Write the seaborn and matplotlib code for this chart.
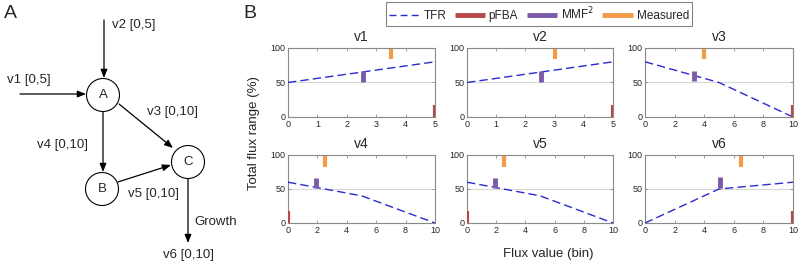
import numpy as np
import pandas as pd
import matplotlib
matplotlib.use('Agg')
import matplotlib.pyplot as plt
import matplotlib.patches as mpatches
from matplotlib.lines import Line2D
import seaborn as sns

# THE DATA ********************************************************************

fluxes = ['v1', 'v2', 'v3', 'v4', 'v5', 'v6']
x_max = [5, 5, 10, 10, 10, 10]

# total flux range (TFR) curves, breakpoints per flux
tfr_x = [[0, 5], [0, 5], [0, 5, 10], [0, 5, 10], [0, 5, 10], [0, 5, 10]]
tfr_y = [[50, 80], [50, 80], [80, 50, 0], [60, 40, 0], [60, 40, 0], [0, 50, 60]]

# pFBA solution (bar from 0 up)
pfba_x = [5, 5, 10, 0, 0, 10]
pfba_top = [17, 17, 17, 17, 17, 17]

# MMF^2 solution
mmf_x = [2.55, 2.55, 3.3, 1.9, 1.9, 5.1]
mmf_lo = [50, 50, 52, 51, 51, 51]
mmf_hi = [66, 66, 67, 66, 66, 67]

# Measured
meas_x = [3.5, 3.0, 4.0, 2.5, 2.5, 6.5]
meas_lo = [84, 84, 84, 83, 83, 83]
meas_hi = [99, 99, 99, 99, 99, 99]

# network (panel A)
nodes = ['A', 'B', 'C']
node_xy = [(103, 95), (102, 189), (188, 162)]
edge_labels = ['v1 [0,5]', 'v2 [0,5]', 'v3 [0,10]', 'v4 [0,10]', 'v5 [0,10]', 'Growth', 'v6 [0,10]']

# THE CHART *******************************************************************

sns.set_style('ticks')
plt.rcParams['font.family'] = ['Liberation Sans', 'DejaVu Sans']

c_tfr = '#2b2bd0'
c_pfba = '#b84848'
c_mmf = '#7b5ba8'
c_meas = '#f59a48'
c_spine = '#8a8a8a'

fig = plt.figure(figsize=(8, 2.63), dpi=100)

# ---- Panel A: the toy network, drawn in pixel coordinates
axA = fig.add_axes([0, 0, 220 / 800, 1])
axA.set_xlim(0, 220)
axA.set_ylim(263, 0)
axA.axis('off')

r = 16.5
for name, (cx, cy) in zip(nodes, node_xy):
    axA.add_patch(mpatches.Circle((cx, cy), r, facecolor='white', edgecolor='black', lw=0.8))
    axA.text(cx, cy, name, ha='center', va='center', fontsize=9.5)

def arrow(p0, p1):
    axA.annotate('', xy=p1, xytext=p0,
                 arrowprops=dict(arrowstyle='-|>,head_length=0.5,head_width=0.2',
                                 color='black', lw=0.9, shrinkA=0, shrinkB=0))

arrow((20, 94), (86, 94))       # v1
arrow((104, 20), (104, 78))     # v2
arrow((119, 104), (173, 148))   # v3
arrow((103, 112), (103, 172))   # v4
arrow((118, 182), (171, 165))   # v5
arrow((188, 179), (188, 243))   # growth / v6

label_pos = [(7, 80), (112, 25), (147, 112), (37, 145), (128, 194), (194, 222), (163, 255)]
for lab, (tx, ty) in zip(edge_labels, label_pos):
    axA.text(tx, ty, lab, ha='left', va='center', fontsize=9.5)

fig.text(4 / 800, 1 - 14 / 263, 'A', fontsize=14, ha='left', va='center')
fig.text(243 / 800, 1 - 13 / 263, 'B', fontsize=14, ha='left', va='center')

# ---- Panel B: the six flux subplots
lefts = [288, 467, 645]
widths = [147, 146, 148]
rows = [(117, 69), (223, 68)]

for i, v in enumerate(fluxes):
    row, col = divmod(i, 3)
    bot, h = rows[row]
    ax = fig.add_axes([lefts[col] / 800, 1 - bot / 263, widths[col] / 800, h / 263])

    tfr = pd.DataFrame({'x': tfr_x[i], 'y': tfr_y[i]})
    sns.lineplot(data=tfr, x='x', y='y', ax=ax, color=c_tfr, lw=1.0, zorder=3)
    ax.lines[-1].set_dashes([6, 3])

    ax.vlines(pfba_x[i], 0, pfba_top[i], color=c_pfba, lw=3, zorder=4, capstyle='butt')
    ax.vlines(mmf_x[i], mmf_lo[i], mmf_hi[i], color=c_mmf, lw=3.5, zorder=4, capstyle='butt')
    ax.vlines(meas_x[i], meas_lo[i], meas_hi[i], color=c_meas, lw=3, zorder=4, capstyle='butt')

    ax.set_xlim(0, x_max[i])
    ax.set_ylim(0, 100)
    ax.set_xticks(np.arange(0, x_max[i] + 1, 1 if x_max[i] == 5 else 2))
    ax.set_yticks([0, 50, 100])
    ax.yaxis.grid(True, color='#d8d8d8', lw=0.8)
    ax.set_axisbelow(True)
    ax.set_xlabel('')
    ax.set_ylabel('')
    ax.set_title(v, fontsize=10, pad=5)
    for s in ax.spines.values():
        s.set_visible(True)
        s.set_color(c_spine)
        s.set_linewidth(0.8)
    ax.tick_params(direction='in', length=2, width=0.6, color=c_spine, labelsize=6.5, pad=2,
                   top=True, right=True)

fig.text(548 / 800, 1 - 254 / 263, 'Flux value (bin)', fontsize=9.5, ha='center', va='center')
fig.text(254 / 800, 1 - 133 / 263, 'Total flux range (%)', fontsize=9.5, ha='center', va='center',
         rotation=90)

# legend
handles = [Line2D([0], [0], color=c_tfr, lw=1, dashes=[5, 3]),
           Line2D([0], [0], color=c_pfba, lw=3.5, solid_capstyle='butt'),
           Line2D([0], [0], color=c_mmf, lw=3.5, solid_capstyle='butt'),
           Line2D([0], [0], color=c_meas, lw=3.5, solid_capstyle='butt')]
leg = fig.legend(handles, ['TFR', 'pFBA', 'MMF$^2$', 'Measured'], ncol=4, loc='center',
                 bbox_to_anchor=(539 / 800, 1 - 14 / 263), fontsize=8.5, frameon=True,
                 fancybox=False, edgecolor='#666666', handlelength=2.6, handletextpad=0.3,
                 columnspacing=0.7, borderpad=0.3)
leg.get_frame().set_linewidth(0.8)

fig.savefig('out.png', dpi=100)
